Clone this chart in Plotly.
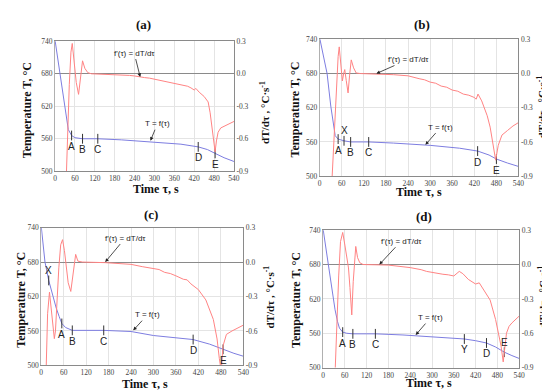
import plotly.graph_objects as go

# ---------------- data ----------------
x_ticks = [0, 60, 120, 180, 240, 300, 360, 420, 480, 540]
T_ticks = [500, 560, 620, 680, 740]
d_ticks = [-0.9, -0.6, -0.3, 0.0, 0.3]
d_tick_text = ["-0.9", "-0.6", "-0.3", "0.0", "0.3"]
panel_titles = ["(a)", "(b)", "(c)", "(d)"]

# panel (a)
a_T_t = [0, 8, 16, 24, 32, 40, 50, 60, 83, 129, 200, 300, 380, 432, 460, 483, 510, 540]
a_T = [742, 708, 680, 648, 615, 577, 566, 562, 560, 560, 558, 554, 550, 545, 540, 533, 525, 518]
a_d_t = [34, 38, 43, 48, 52, 58, 64, 71, 77, 83, 90, 99, 110, 150, 200, 225, 240, 255, 270, 285, 300, 315,
         330, 345, 360, 375, 390, 400, 410, 420, 425, 435, 450, 462, 468, 474, 480, 483, 487, 492, 500, 520, 540]
a_d = [-0.95, -0.5, -0.1, 0.2, 0.28, 0.1, -0.08, -0.19, -0.05, 0.12, 0.05, 0.01, 0.0, -0.003, -0.01, -0.015,
       -0.02, -0.03, -0.035, -0.04, -0.05, -0.055, -0.07, -0.075, -0.09, -0.095, -0.11, -0.115, -0.13, -0.15,
       -0.135, -0.17, -0.21, -0.26, -0.36, -0.5, -0.66, -0.72, -0.62, -0.54, -0.5, -0.47, -0.44]
a_mark_t = [50, 83, 129, 432, 483]
a_mark_T = [566, 560, 560, 545, 533]
a_mark_lbl = ["A", "B", "C", "D", "E"]
a_mark_up = [False, False, False, False, False]
a_fd_head = [257, -0.03]
a_T_head = [288, 556.5]

# panel (b)
b_T_t = [0, 10, 20, 30, 42, 50, 66, 84, 133, 200, 300, 380, 429, 460, 480, 510, 540]
b_T = [742, 712, 680, 623, 571, 565, 562, 560, 560, 558, 554, 549, 544, 537, 530, 523, 517]
b_d_t = [33, 38, 42, 47, 50, 53, 57, 61.5, 65, 68, 72, 77, 81, 85.6, 92, 99, 110, 160, 200, 240, 255, 270,
         285, 300, 315, 330, 345, 360, 375, 390, 405, 420, 425, 430, 440, 455, 463, 470, 478, 485, 495, 510, 525, 540]
b_d = [-0.95, -0.6, -0.3, 0.0, 0.15, 0.234, 0.1, -0.065, 0.0, 0.035, -0.06, -0.17, -0.02, 0.12, 0.05, 0.005,
       0.0, -0.003, -0.01, -0.02, -0.035, -0.045, -0.055, -0.075, -0.085, -0.11, -0.12, -0.145, -0.155, -0.18,
       -0.19, -0.21, -0.225, -0.18, -0.24, -0.37, -0.47, -0.6, -0.76, -0.63, -0.54, -0.5, -0.46, -0.43]
b_mark_t = [50, 66, 84, 133, 429, 480]
b_mark_T = [565, 562, 560, 560, 544, 530]
b_mark_lbl = ["A", "X", "B", "C", "D", "E"]
b_mark_up = [False, True, False, False, False, False]
b_fd_head = [154, 0.0]
b_T_head = [287, 555]

# panel (c)
c_T_t = [0, 5, 10, 20, 30, 40, 48, 55, 65, 83, 167, 240, 300, 350, 406, 450, 486, 515, 540]
c_T = [742, 705, 680, 648, 622, 600, 585, 573, 566, 561, 561, 559, 552, 549, 545, 537, 528, 521, 516]
c_d_t = [13, 17, 22, 26, 30, 35, 38, 42, 47, 52, 57, 62, 67, 72, 79, 85, 92, 98, 110, 170, 240, 270, 300,
         315, 330, 345, 360, 380, 390, 400, 420, 440, 460, 470, 476, 481, 486, 495, 510, 540]
c_d = [-0.95, -0.45, -0.262, -0.38, -0.55, -0.667, -0.6, -0.3, -0.05, 0.15, 0.195, 0.1, -0.05, -0.18, -0.256,
       -0.1, 0.067, 0.008, 0.0, -0.005, -0.02, -0.04, -0.06, -0.065, -0.09, -0.1, -0.12, -0.15, -0.155, -0.19,
       -0.24, -0.33, -0.5, -0.67, -0.84, -0.95, -0.73, -0.63, -0.6, -0.55]
c_mark_t = [20, 55, 83, 167, 406, 486]
c_mark_T = [648, 573, 561, 561, 545, 528]
c_mark_lbl = ["X", "A", "B", "C", "D", "E"]
c_mark_up = [True, False, False, False, False, False]
c_fd_head = [171, 0.0]
c_T_head = [246, 561]

# panel (d)
d_T_t = [0, 8, 15, 25, 33, 40, 45, 54, 65, 82, 144, 220, 300, 389, 420, 450, 475, 499, 520, 540]
d_T = [742, 708, 680, 632, 601, 580, 569, 562, 560, 559, 559, 557, 554, 550, 547, 543, 536, 527, 521, 516]
d_d_t = [33, 38, 43, 48, 54, 60, 66, 70, 74, 79, 83, 87, 90, 95, 101, 110, 180, 240, 255, 270, 285, 300, 315,
         330, 345, 360, 375, 385, 400, 420, 430, 440, 460, 475, 490, 496, 500, 505, 512, 520, 540]
d_d = [-0.95, -0.5, -0.1, 0.2, 0.28, 0.17, 0.05, -0.03, -0.2, -0.44, -0.15, 0.08, 0.158, 0.06, 0.016, 0.0,
       -0.005, -0.027, -0.035, -0.045, -0.06, -0.07, -0.075, -0.085, -0.09, -0.1, -0.06, -0.08, -0.13, -0.17,
       -0.16, -0.21, -0.31, -0.48, -0.71, -0.85, -0.74, -0.6, -0.54, -0.51, -0.45]
d_mark_t = [54, 82, 144, 389, 450, 499]
d_mark_T = [562, 559, 559, 550, 543, 527]
d_mark_lbl = ["A", "B", "C", "Y", "D", "E"]
d_mark_up = [False, False, False, False, False, True]
d_fd_head = [155, 0.0]
d_T_head = [255, 557]

# ---------------- layout helpers ----------------
W, H = 550, 391
boxes = [(45.7, 30, 227.3, 163), (314.3, 28, 516, 168), (31.7, 220.7, 236.7, 361.7), (317.7, 223.3, 516.7, 364)]
title_pos = [(135.7, 12.5), (418.3, 12.7), (143.3, 207.7), (420, 209)]
left_title_pos = [(16.7, 100), (289, 100), (11.7, 295), (290, 295)]
right_title_pos = [(258, 103), (539.5, 97), (263, 292), (541, 292)]
bottom_title_pos = [(148, 181), (415, 184), (136.7, 381), (425, 380)]
fd_offsets = [(-6, -24), (31.6, -14), (20, -24), (21.7, -23.3)]
T_offsets = [(7, -17), (15.6, -17.7), (14.3, -15.7), (15, -17.4)]

panels = [
    (a_T_t, a_T, a_d_t, a_d, a_mark_t, a_mark_T, a_mark_lbl, a_mark_up, a_fd_head, a_T_head),
    (b_T_t, b_T, b_d_t, b_d, b_mark_t, b_mark_T, b_mark_lbl, b_mark_up, b_fd_head, b_T_head),
    (c_T_t, c_T, c_d_t, c_d, c_mark_t, c_mark_T, c_mark_lbl, c_mark_up, c_fd_head, c_T_head),
    (d_T_t, d_T, d_d_t, d_d, d_mark_t, d_mark_T, d_mark_lbl, d_mark_up, d_fd_head, d_T_head),
]

BLUE = "#7d7de0"
RED = "#ff8383"
tickfont = dict(family="Liberation Serif", size=7.5, color="#444")
titlefont = dict(family="Liberation Serif", size=12, color="#111")
rtitlefont = dict(family="Liberation Serif", size=11, color="#111")
labfont = dict(family="Liberation Sans", size=10, color="#222")
annfont = dict(family="Liberation Sans", size=8, color="#222")

fig = go.Figure()
layout = dict(width=W, height=H, margin=dict(l=0, r=0, t=0, b=0),
              paper_bgcolor="white", plot_bgcolor="white", showlegend=False)
annotations = []


def paper_text(px, py, text, font, angle=0):
    return dict(x=px / W, y=1 - py / H, xref="paper", yref="paper", text=text, textangle=angle,
                showarrow=False, font=font, xanchor="center", yanchor="middle")


for i, (tt, TT, dt, dd, mt, mT, ml, mu, fdh, Th) in enumerate(panels):
    n = i + 1
    xname = "x" if n == 1 else f"x{n}"
    yl = 2 * n - 1
    yr = 2 * n
    ylname = "y" if yl == 1 else f"y{yl}"
    yrname = f"y{yr}"
    l, t, r, b = boxes[i]
    xd = [l / W, r / W]
    yd = [1 - b / H, 1 - t / H]
    layout["xaxis" if n == 1 else f"xaxis{n}"] = dict(
        domain=xd, range=[0, 540], anchor=ylname, tickvals=x_ticks, tickfont=tickfont,
        showgrid=True, gridcolor="#e4e4e4", gridwidth=1, zeroline=False,
        showline=True, mirror=True, linecolor="#8a8a8a", linewidth=1, ticks="", ticklen=0)
    layout["yaxis" if yl == 1 else f"yaxis{yl}"] = dict(
        domain=yd, range=[500, 740], anchor=xname, tickvals=T_ticks, tickfont=tickfont,
        showgrid=True, gridcolor="#e4e4e4", gridwidth=1, zeroline=False,
        showline=True, linecolor="#b0b0b0", linewidth=1, ticks="")
    layout[f"yaxis{yr}"] = dict(
        range=[-0.9, 0.3], anchor=xname, overlaying=ylname, side="right",
        tickvals=d_ticks, ticktext=d_tick_text, tickfont=tickfont, showgrid=False,
        zeroline=True, zerolinecolor="#8a8a8a", zerolinewidth=1.2,
        showline=True, linecolor="#8a8a8a", linewidth=1, ticks="")

    fig.add_trace(go.Scatter(x=dt, y=dd, mode="lines", line=dict(color=RED, width=1),
                             xaxis=xname, yaxis=yrname, hoverinfo="skip"))
    fig.add_trace(go.Scatter(x=tt, y=TT, mode="lines", line=dict(color=BLUE, width=1),
                             xaxis=xname, yaxis=ylname, hoverinfo="skip"))
    fig.add_trace(go.Scatter(x=mt, y=mT, mode="markers",
                             marker=dict(symbol="line-ns-open", size=7, color="#333",
                                         line=dict(color="#333", width=1)),
                             xaxis=xname, yaxis=ylname, hoverinfo="skip"))
    for xv, yv, lb, up in zip(mt, mT, ml, mu):
        annotations.append(dict(x=xv, y=yv, xref=xname, yref=ylname, text=lb, showarrow=False,
                                font=labfont, yshift=(10 if up else -11),
                                xanchor="center", yanchor="middle"))
    fx, fy = fd_offsets[i]
    annotations.append(dict(x=fdh[0], y=fdh[1], xref=xname, yref=yrname, text="f'(τ) = dT/dτ",
                            showarrow=True, ax=fx, ay=fy, font=annfont, arrowhead=2, arrowsize=0.9,
                            arrowwidth=0.8, arrowcolor="#222", standoff=0, startstandoff=0))
    tx, ty = T_offsets[i]
    annotations.append(dict(x=Th[0], y=Th[1], xref=xname, yref=ylname, text="T = f(τ)",
                            showarrow=True, ax=tx, ay=ty, font=annfont, arrowhead=2, arrowsize=0.9,
                            arrowwidth=0.8, arrowcolor="#222", standoff=0, startstandoff=0))
    for xv in (0, 540):
        annotations.append(dict(x=xv, y=740, xref=xname, yref=ylname, text="", showarrow=True,
                                ax=0, ay=2, arrowhead=2, arrowsize=0.8, arrowwidth=1,
                                arrowcolor="#444", standoff=0, yshift=3))
    px, py = title_pos[i]
    annotations.append(paper_text(px, py, "<b>" + panel_titles[i] + "</b>",
                                  dict(family="Liberation Serif", size=13, color="#111")))
    px, py = left_title_pos[i]
    annotations.append(paper_text(px, py, "<b>Temperature T, °C</b>", titlefont, -90))
    px, py = right_title_pos[i]
    annotations.append(paper_text(px, py, "<b>dT/dτ , °C·s<sup>-1</sup></b>", rtitlefont, -90))
    px, py = bottom_title_pos[i]
    annotations.append(paper_text(px, py, "<b>Time τ, s</b>", titlefont))

layout["annotations"] = annotations
fig.update_layout(**layout)
fig.write_html("out.html")
